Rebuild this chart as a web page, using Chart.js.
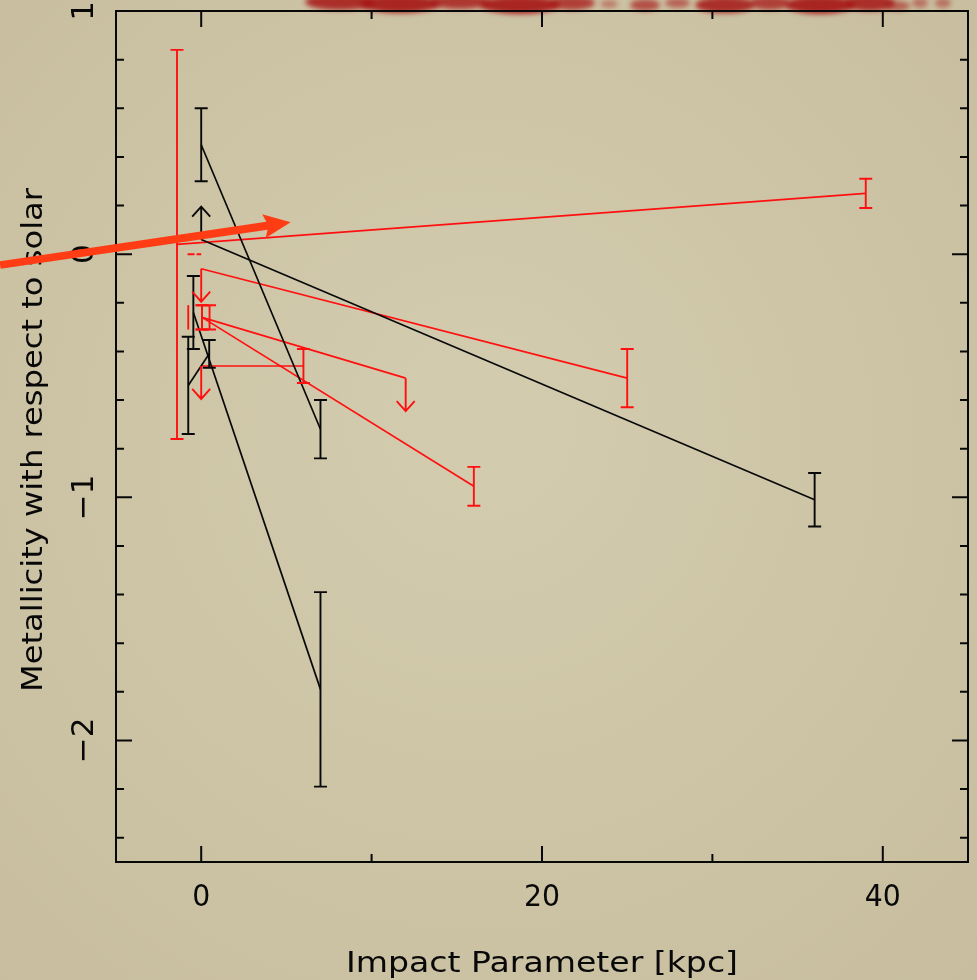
<!DOCTYPE html>
<html>
<head>
<meta charset="utf-8">
<title>Metallicity vs impact parameter</title>
<script src="https://cdn.jsdelivr.net/npm/chart.js@4.4.1/dist/chart.umd.min.js"></script>
<style>
  html, body { margin: 0; padding: 0; background: #cdc4a6; }
  #wrap { width: 977px; height: 980px; }
</style>
</head>
<body>
<div id="wrap"><canvas id="myChart" width="977" height="980"></canvas></div>
<script>
'use strict';

// axis ranges and tick values
var xMin = -5, xMax = 45;
var yMin = -2.5, yMax = 1;
var xLabelTicks = [0, 20, 40];
var xMinorTicks = [10, 30];
var yLabelTicks = [1, 0, -1, -2];
var yMinorTicks = [0.8, 0.6, 0.4, 0.2, -0.2, -0.4, -0.6, -0.8, -1.2, -1.4, -1.6, -1.8, -2.2, -2.4];

// black pairs: start point -> end point, err = half length of error bar
// limit: 1 = lower limit (arrow up), -1 = upper limit (arrow down)
var blackStartX = [0, 0, -0.46, -0.76];
var blackStartY = [0.45, 0.06, -0.24, -0.54];
var blackStartErr = [0.15, 0, 0.15, 0.2];
var blackStartLimit = [0, 1, 0, 0];
var blackEndX = [7, 36, 7, 0.47];
var blackEndY = [-0.72, -1.01, -1.79, -0.41];
var blackEndErr = [0.12, 0.11, 0.4, 0.057];
var blackEndLimit = [0, 0, 0, 0];

// red pairs
var redStartX = [-1.42, 0, 0.05, 0.05, 0];
var redStartY = [0.04, -0.06, -0.26, -0.26, -0.46];
var redStartErr = [0.8, 0, 0.05, 0.05, 0];
var redStartLimit = [0, -1, 0, 0, -1];
var redEndX = [39, 25, 16, 12, 6];
var redEndY = [0.25, -0.51, -0.955, -0.51, -0.46];
var redEndErr = [0.06, 0.12, 0.08, 0, 0.07];
var redEndLimit = [0, 0, 0, -1, 0];

// loose red marks with no line
var redExtraX = [0.49, -0.76];
var redExtraY = [-0.26, -0.26];
var redExtraErr = [0.05, 0.05];
var redExtraCaps = [true, false];
var redDashX = [-0.8, 0];
var redDashY = [0, 0];

// the big pointer arrow laid over the slide
var pointerX = [-11.8, 5.25];
var pointerY = [-0.045, 0.131];

var black = '#080808';
var red = '#ff1010';
var fontName = '"DejaVu Sans", sans-serif';

function pairDatasets(sx, sy, ex, ey, color) {
  var sets = [];
  for (var i = 0; i < sx.length; i++) {
    sets.push({
      type: 'line',
      data: [{x: sx[i], y: sy[i]}, {x: ex[i], y: ey[i]}],
      borderColor: color,
      borderWidth: 1.7,
      pointRadius: 0,
      fill: false
    });
  }
  return sets;
}

function collectMarks() {
  var marks = [];
  var i;
  for (i = 0; i < blackStartX.length; i++) {
    marks.push({x: blackStartX[i], y: blackStartY[i], err: blackStartErr[i], limit: blackStartLimit[i], color: black, caps: true});
    marks.push({x: blackEndX[i], y: blackEndY[i], err: blackEndErr[i], limit: blackEndLimit[i], color: black, caps: true});
  }
  for (i = 0; i < redStartX.length; i++) {
    marks.push({x: redStartX[i], y: redStartY[i], err: redStartErr[i], limit: redStartLimit[i], color: red, caps: true});
    marks.push({x: redEndX[i], y: redEndY[i], err: redEndErr[i], limit: redEndLimit[i], color: red, caps: true});
  }
  for (i = 0; i < redExtraX.length; i++) {
    marks.push({x: redExtraX[i], y: redExtraY[i], err: redExtraErr[i], limit: 0, color: red, caps: redExtraCaps[i]});
  }
  return marks;
}

// write text squeezed or stretched to a given width
function fitText(ctx, text, x, y, width) {
  var w = ctx.measureText(text).width;
  ctx.save();
  ctx.translate(x, y);
  ctx.scale(width / w, 1);
  ctx.fillText(text, 0, 0);
  ctx.restore();
}

var paperPlugin = {
  id: 'paper',
  beforeDraw: function (chart) {
    var ctx = chart.ctx;
    var g = ctx.createRadialGradient(480, 420, 50, 480, 480, 800);
    g.addColorStop(0, '#d3cbae');
    g.addColorStop(1, '#c6bc9c');
    ctx.save();
    ctx.fillStyle = g;
    ctx.fillRect(0, 0, chart.width, chart.height);

    // smudged red title bleeding in from above (x, y, w, h, alpha)
    ctx.filter = 'blur(2.5px)';
    var blobs = [
      [305, 2, 70, 8, 0.85], [360, 4, 80, 9, 0.9], [430, 2, 60, 7, 0.8], [480, 5, 80, 9, 0.9],
      [550, 3, 45, 7, 0.75], [600, 4, 18, 4, 0.4], [630, 5, 30, 6, 0.65],
      [665, 3, 25, 5, 0.55], [695, 5, 60, 8, 0.85], [750, 3, 40, 7, 0.75], [785, 5, 70, 9, 0.9],
      [845, 3, 50, 8, 0.85], [885, 6, 25, 5, 0.55], [912, 3, 16, 5, 0.45], [935, 3, 16, 5, 0.45]
    ];
    for (var i = 0; i < blobs.length; i++) {
      var b = blobs[i];
      ctx.fillStyle = 'rgba(165, 20, 20, ' + b[4] + ')';
      ctx.beginPath();
      ctx.ellipse(b[0] + b[2] / 2, b[1], b[2] / 2, b[3], 0, 0, Math.PI * 2);
      ctx.fill();
    }
    ctx.restore();
  }
};

var framePlugin = {
  id: 'frame',
  afterDraw: function (chart) {
    var ctx = chart.ctx;
    var a = chart.chartArea;
    var xs = chart.scales.x, ys = chart.scales.y;
    var i, px, py;

    ctx.save();
    ctx.strokeStyle = black;
    ctx.lineWidth = 2;
    ctx.strokeRect(a.left, a.top, a.right - a.left, a.bottom - a.top);

    ctx.beginPath();
    var xt = xLabelTicks.map(function (v) { return [v, 16]; }).concat(xMinorTicks.map(function (v) { return [v, 8]; }));
    for (i = 0; i < xt.length; i++) {
      px = xs.getPixelForValue(xt[i][0]);
      ctx.moveTo(px, a.bottom); ctx.lineTo(px, a.bottom - xt[i][1]);
      ctx.moveTo(px, a.top); ctx.lineTo(px, a.top + xt[i][1]);
    }
    var yt = yLabelTicks.map(function (v) { return [v, 16]; }).concat(yMinorTicks.map(function (v) { return [v, 8]; }));
    for (i = 0; i < yt.length; i++) {
      py = ys.getPixelForValue(yt[i][0]);
      ctx.moveTo(a.left, py); ctx.lineTo(a.left + yt[i][1], py);
      ctx.moveTo(a.right, py); ctx.lineTo(a.right - yt[i][1], py);
    }
    ctx.stroke();

    // tick labels
    ctx.fillStyle = black;
    ctx.font = '31px ' + fontName;
    ctx.textAlign = 'center';
    ctx.textBaseline = 'alphabetic';
    for (i = 0; i < xLabelTicks.length; i++) {
      fitText(ctx, String(xLabelTicks[i]), xs.getPixelForValue(xLabelTicks[i]), 906, String(xLabelTicks[i]).length * 18);
    }
    for (i = 0; i < yLabelTicks.length; i++) {
      py = ys.getPixelForValue(yLabelTicks[i]);
      ctx.save();
      ctx.translate(93, py);
      ctx.rotate(-Math.PI / 2);
      ctx.fillText(String(yLabelTicks[i]).replace('-', '\u2212'), 0, 0);
      ctx.restore();
    }

    // axis titles
    ctx.font = '28px ' + fontName;
    fitText(ctx, 'Impact Parameter [kpc]', (a.left + a.right) / 2, 972, 392);
    ctx.save();
    ctx.translate(42, 440);
    ctx.rotate(-Math.PI / 2);
    ctx.font = '29px ' + fontName;
    fitText(ctx, 'Metallicity with respect to solar', 0, 0, 504);
    ctx.restore();

    // error bars and limit arrows
    var marks = collectMarks();
    ctx.lineWidth = 1.9;
    for (i = 0; i < marks.length; i++) {
      var m = marks[i];
      px = xs.getPixelForValue(m.x);
      py = ys.getPixelForValue(m.y);
      ctx.strokeStyle = m.color;
      ctx.beginPath();
      if (m.err > 0) {
        var top = ys.getPixelForValue(m.y + m.err);
        var bot = ys.getPixelForValue(m.y - m.err);
        ctx.moveTo(px, top); ctx.lineTo(px, bot);
        if (m.caps) {
          ctx.moveTo(px - 6.5, top); ctx.lineTo(px + 6.5, top);
          ctx.moveTo(px - 6.5, bot); ctx.lineTo(px + 6.5, bot);
        }
      }
      if (m.limit !== 0) {
        var tip = py - m.limit * 33;
        ctx.moveTo(px, py); ctx.lineTo(px, tip);
        ctx.moveTo(px - 9, tip + m.limit * 10); ctx.lineTo(px, tip); ctx.lineTo(px + 9, tip + m.limit * 10);
      }
      ctx.stroke();
    }

    // short dashed red stroke at zero
    ctx.strokeStyle = red;
    ctx.lineWidth = 2;
    ctx.setLineDash([7, 2]);
    ctx.beginPath();
    ctx.moveTo(xs.getPixelForValue(redDashX[0]), ys.getPixelForValue(redDashY[0]));
    ctx.lineTo(xs.getPixelForValue(redDashX[1]), ys.getPixelForValue(redDashY[1]));
    ctx.stroke();
    ctx.setLineDash([]);

    // pointer arrow
    var x0 = xs.getPixelForValue(pointerX[0]), y0 = ys.getPixelForValue(pointerY[0]);
    var x1 = xs.getPixelForValue(pointerX[1]), y1 = ys.getPixelForValue(pointerY[1]);
    var ang = Math.atan2(y1 - y0, x1 - x0);
    var len = Math.sqrt((x1 - x0) * (x1 - x0) + (y1 - y0) * (y1 - y0));
    ctx.translate(x0, y0);
    ctx.rotate(ang);
    ctx.fillStyle = '#ff3c14';
    ctx.beginPath();
    ctx.moveTo(0, -3.8);
    ctx.lineTo(len - 24, -4);
    ctx.lineTo(len - 27, -12);
    ctx.lineTo(len, 0);
    ctx.lineTo(len - 27, 12);
    ctx.lineTo(len - 24, 4);
    ctx.lineTo(0, 3.8);
    ctx.closePath();
    ctx.fill();
    ctx.restore();
  }
};

var datasets = pairDatasets(blackStartX, blackStartY, blackEndX, blackEndY, black)
  .concat(pairDatasets(redStartX, redStartY, redEndX, redEndY, red));

var ctx = document.getElementById('myChart').getContext('2d');
var chart = new Chart(ctx, {
  type: 'scatter',
  data: { datasets: datasets },
  options: {
    responsive: false,
    animation: false,
    devicePixelRatio: 1,
    layout: { padding: { left: 116, right: 9, top: 11, bottom: 118 } },
    plugins: { legend: { display: false }, tooltip: { enabled: false } },
    scales: {
      x: { type: 'linear', min: xMin, max: xMax, display: false },
      y: { type: 'linear', min: yMin, max: yMax, display: false }
    }
  },
  plugins: [paperPlugin, framePlugin]
});
</script>
</body>
</html>
